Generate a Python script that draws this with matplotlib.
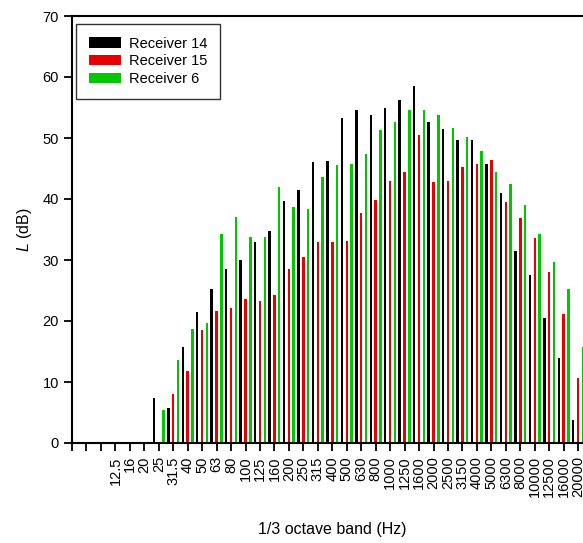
import numpy as np
import matplotlib
matplotlib.use("Agg")
import matplotlib.pyplot as plt

plt.rcParams['font.family'] = ['Liberation Sans', 'DejaVu Sans']
plt.rcParams['mathtext.fontset'] = 'custom'
plt.rcParams['mathtext.it'] = 'Liberation Sans:italic'
plt.rcParams['mathtext.rm'] = 'Liberation Sans'

# 1/3 octave bands (first three slots have no label and no data)
bands = ['', '', '', '12.5', '16', '20', '25', '31.5', '40', '50', '63', '80',
         '100', '125', '160', '200', '250', '315', '400', '500', '630', '800',
         '1000', '1250', '1600', '2000', '2500', '3150', '4000', '5000',
         '6300', '8000', '10000', '12500', '16000', '20000']

receiver_14 = [0, 0, 0, 0, 0, 0, 7.3, 5.7, 15.7, 21.4, 25.3, 28.5,
               30.0, 32.9, 34.8, 39.7, 41.5, 46.0, 46.2, 53.3, 54.6, 53.8,
               55.0, 56.3, 58.5, 52.6, 51.4, 49.6, 49.6, 45.7,
               41.0, 31.4, 27.5, 20.5, 14.0, 3.7]
receiver_15 = [0, 0, 0, 0, 0, 0, 0, 8.1, 11.8, 18.5, 21.6, 22.2,
               23.6, 23.2, 24.3, 28.6, 30.5, 33.0, 33.0, 33.1, 37.7, 39.8,
               43.0, 44.4, 50.5, 42.8, 42.9, 45.2, 45.7, 46.4,
               39.5, 36.9, 33.6, 28.1, 21.1, 10.6]
receiver_6 = [0, 0, 0, 0, 0, 0, 5.4, 13.6, 18.7, 19.6, 34.3, 37.1,
              33.7, 33.7, 42.0, 38.7, 38.3, 43.6, 45.6, 45.7, 47.3, 51.3,
              52.6, 54.6, 54.6, 53.8, 51.7, 50.2, 47.8, 44.4,
              42.4, 39.0, 34.3, 29.6, 25.3, 15.7]

series = [("Receiver 14", receiver_14, "#000000"),
          ("Receiver 15", receiver_15, "#e60000"),
          ("Receiver 6", receiver_6, "#00c800")]

fig = plt.figure(figsize=(5.83, 5.43), dpi=100)
# axes run past the right edge of the picture, like the cropped original
ax = fig.add_axes([72 / 583, 100 / 543, 520.6 / 583, 427 / 543])

x = np.arange(len(bands))
offsets = [-0.34, 0.0, 0.33]
for (name, vals, col), off in zip(series, offsets):
    ax.bar(x + off, vals, width=0.17, color=col, label=name, linewidth=0)

ax.set_xlim(0, 36)
ax.set_ylim(0, 70)
ax.set_yticks(range(0, 71, 10))
ax.set_xticks(x)
ax.set_xticklabels(bands, rotation=90, fontsize=10.5)
ax.tick_params(axis='y', labelsize=10.5, length=6, width=1.3)
ax.tick_params(axis='x', length=6, width=1.3)
for s in ['left', 'bottom', 'top']:
    ax.spines[s].set_linewidth(1.5)
ax.spines['right'].set_visible(False)

ax.set_ylabel(r'$L$ (dB)', fontsize=11.5, labelpad=6)
ax.set_xlabel('1/3 octave band (Hz)', fontsize=11.5, labelpad=18)

leg = ax.legend(loc='upper left', bbox_to_anchor=(0.008, 0.981), borderaxespad=0,
                fontsize=10.5, frameon=True, fancybox=False, edgecolor='black',
                handlelength=2.2, handleheight=0.7, handletextpad=0.6,
                labelspacing=0.27, borderpad=0.85)
leg.get_frame().set_linewidth(1.0)

fig.savefig('out.png', dpi=100)
